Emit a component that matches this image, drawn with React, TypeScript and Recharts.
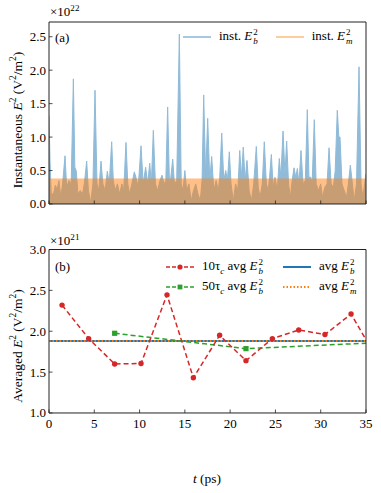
import React from "react";
import { ComposedChart, Area, Line, XAxis, YAxis, Legend } from "recharts";

// panel (a): instantaneous E_b^2 (units of 1e22 V^2/m^2), sampled at peaks and troughs
const instTime = [
  0.0, 0.12, 0.25, 0.5, 0.7, 0.9, 1.1, 1.3, 1.5, 1.77, 1.95, 2.2, 2.45, 2.69, 2.85, 3.0, 3.2, 3.45,
  3.7, 3.9, 4.16, 4.35, 4.6, 4.85, 5.08, 5.3, 5.5, 5.74, 5.95, 6.2, 6.44, 6.65, 6.92, 7.1, 7.3, 7.55,
  7.8, 8.05, 8.25, 8.5, 8.7, 8.9, 9.15, 9.42, 9.6, 9.85, 10.16, 10.4, 10.67, 10.9, 11.12, 11.3, 11.52,
  11.75, 12.0, 12.25, 12.48, 12.7, 12.9, 13.1, 13.3, 13.45, 13.66, 13.85, 14.1, 14.39, 14.6, 14.8,
  15.0, 15.2, 15.45, 15.7, 15.95, 16.2, 16.45, 16.7, 16.9, 17.08, 17.3, 17.52, 17.75, 17.96, 18.2,
  18.45, 18.7, 18.85, 19.07, 19.3, 19.51, 19.7, 19.91, 20.1, 20.35, 20.6, 20.85, 21.06, 21.25, 21.45,
  21.65, 21.86, 22.1, 22.35, 22.6, 22.89, 23.1, 23.3, 23.55, 23.77, 24.0, 24.2, 24.35, 24.55, 24.75,
  24.95, 25.2, 25.43, 25.6, 25.84, 26.05, 26.24, 26.45, 26.65, 26.85, 27.05, 27.25, 27.42, 27.6,
  27.82, 28.05, 28.3, 28.52, 28.7, 28.9, 29.05, 29.29, 29.5, 29.75, 30.0, 30.2, 30.45, 30.7, 30.92,
  31.15, 31.4, 31.6, 31.83, 32.0, 32.13, 32.35, 32.6, 32.85, 33.05, 33.27, 33.5, 33.7, 33.95, 34.23,
  34.45, 34.65, 34.85, 35.0,
];
const instEb = [
  1.32, 0.6, 0.15, 0.15, 0.28, 0.22, 0.35, 0.1, 0.3, 0.72, 0.25, 0.35, 0.3, 1.87, 0.55, 0.5, 0.15, 0.2,
  0.15, 0.3, 0.64, 0.2, 0.02, 0.3, 1.7, 0.3, 0.2, 0.64, 0.3, 0.2, 0.49, 0.3, 0.93, 0.35, 0.2, 0.3,
  0.15, 0.3, 0.2, 0.92, 0.3, 0.15, 0.3, 0.48, 0.4, 0.25, 0.87, 0.3, 0.55, 0.3, 0.61, 0.3, 1.1,
  0.3, 0.2, 0.35, 0.43, 0.3, 0.35, 1.45, 0.3, 0.4, 0.67, 0.3, 0.35, 2.54, 0.3, 0.2,
  0.5, 0.2, 0.3, 0.05, 0.2, 0.3, 0.15, 0.05, 0.35, 1.63, 0.4, 1.28, 0.35, 0.71, 0.2,
  0.35, 0.2, 0.4, 1.06, 0.35, 0.5, 0.35, 0.78, 0.3, 0.05, 0.3, 0.2, 0.8, 0.4, 0.85,
  0.35, 0.65, 0.2, 0.05, 0.3, 0.86, 0.25, 0.1, 0.3, 0.93, 0.3, 0.2, 0.4, 0.74, 0.25,
  0.4, 0.2, 0.68, 0.4, 1.09, 0.45, 0.94, 0.3, 0.1, 0.35, 0.54, 0.4, 0.53, 0.3,
  0.8, 0.3, 0.35, 1.41, 0.4, 0.4, 0.3, 1.26, 0.3, 0.2, 0.3, 0.1, 0.25, 0.3, 0.84,
  0.3, 0.25, 0.5, 1.4, 1.0, 1.0, 0.3, 0.2, 0.1, 0.3, 0.58, 0.3, 0.05, 0.3, 2.05,
  0.3, 0.1, 0.3, 0.45,
];
const instEmLevel = 0.38;

// panel (b): averaged E^2 (units of 1e21 V^2/m^2)
const avg10Time = [1.44, 4.38, 7.25, 10.16, 13.03, 15.94, 18.84, 21.75, 24.66, 27.57, 30.47, 33.35, 36.25];
const avg10Eb = [2.32, 1.91, 1.6, 1.605, 2.445, 1.43, 1.95, 1.64, 1.91, 2.015, 1.96, 2.21, 1.66];
const avg50Time = [7.25, 21.75, 36.25];
const avg50Eb = [1.975, 1.787, 1.86];
const avgEb = 1.88;
const avgEm = 1.88;

const tTicks = [0, 5, 10, 15, 20, 25, 30, 35];
const topTicks = [0, 0.5, 1, 1.5, 2, 2.5];
const bottomTicks = [1, 1.5, 2, 2.5, 3];

const FONT = "'Liberation Serif', 'Times New Roman', serif";
const BLUE = "#1f77b4";
const LIGHT_BLUE = "#8fbbd9";
const ORANGE = "#ff7f0e";
const RED = "#d62728";
const GREEN = "#2ca02c";
const AXIS = "#222";

const instData = instTime.map((t, i) => ({ t, eb: instEb[i], em: instEmLevel }));
const avg10Data = avg10Time.map((t, i) => ({ t, v: avg10Eb[i] }));
const avg50Data = avg50Time.map((t, i) => ({ t, v: avg50Eb[i] }));
const avgEbData = [{ t: 0, v: avgEb }, { t: 35, v: avgEb }];
const avgEmData = [{ t: 0, v: avgEm }, { t: 35, v: avgEm }];

// inward tick + label on the left axis (tickSize/tickMargin are 0, so x is the axis line)
const YTick = (props: any) => {
  const { x, y, payload } = props;
  return (
    <g>
      <line x1={x} x2={x + 3.5} y1={y} y2={y} stroke={AXIS} strokeWidth={0.8} />
      <text x={x - 3} y={y} dy={4.5} textAnchor="end" fontSize={13} fontFamily={FONT} fill="#000">
        {payload.value.toFixed(1)}
      </text>
    </g>
  );
};

const XTick = (props: any) => {
  const { x, y, payload, showLabel } = props;
  return (
    <g>
      <line x1={x} x2={x} y1={y} y2={y - 3.5} stroke={AXIS} strokeWidth={0.8} />
      {showLabel && (
        <text x={x} y={y} dy={15} textAnchor="middle" fontSize={13} fontFamily={FONT} fill="#000">
          {payload.value}
        </text>
      )}
    </g>
  );
};

const E2 = ({ sub }: { sub: string }) => (
  <span>
    <i>E</i>
    <span
      style={{
        display: "inline-flex",
        flexDirection: "column",
        fontSize: 9,
        lineHeight: "9px",
        verticalAlign: "middle",
        marginLeft: 1,
      }}
    >
      <span>2</span>
      <i>{sub}</i>
    </span>
  </span>
);

const Sample = ({ color, dash, width, marker }: any) => (
  <svg width={28} height={10} style={{ verticalAlign: "middle", marginRight: 8 }}>
    <line x1={0} x2={28} y1={5} y2={5} stroke={color} strokeWidth={width} strokeDasharray={dash} />
    {marker === "circle" && <circle cx={14} cy={5} r={2.6} fill={color} />}
    {marker === "square" && <rect x={11.6} y={2.6} width={4.8} height={4.8} fill={color} />}
  </svg>
);

const legendText: React.CSSProperties = { fontFamily: FONT, fontSize: 13, color: "#000", whiteSpace: "nowrap" };

const TopLegend = () => (
  <div style={{ ...legendText, display: "flex", gap: 18 }}>
    <span>
      <Sample color={LIGHT_BLUE} width={1.6} />
      inst. <E2 sub="b" />
    </span>
    <span>
      <Sample color="#ffbf86" width={1.6} />
      inst. <E2 sub="m" />
    </span>
  </div>
);

const BottomLegend = () => (
  <div style={{ ...legendText, display: "grid", gridTemplateColumns: "auto auto", columnGap: 20, rowGap: 2 }}>
    <span>
      <Sample color={RED} width={1.5} dash="4 2" marker="circle" />
      10τ<sub style={{ fontSize: 9, fontStyle: "italic" }}>c</sub> avg <E2 sub="b" />
    </span>
    <span>
      <Sample color={BLUE} width={2} />
      avg <E2 sub="b" />
    </span>
    <span>
      <Sample color={GREEN} width={1.5} dash="4 2" marker="square" />
      50τ<sub style={{ fontSize: 9, fontStyle: "italic" }}>c</sub> avg <E2 sub="b" />
    </span>
    <span>
      <Sample color={ORANGE} width={2} dash="1.5 2" />
      avg <E2 sub="m" />
    </span>
  </div>
);

const SquareDot = (p: any) => {
  if (p.cx == null || p.cy == null) return <g key={`sq-${p.index}`} />;
  return <rect key={`sq-${p.index}`} x={p.cx - 2.6} y={p.cy - 2.6} width={5.2} height={5.2} fill={GREEN} />;
};

const rotLabel = (top: number): React.CSSProperties => ({
  position: "absolute",
  left: 17,
  top,
  transform: "translate(-50%, -50%) rotate(-90deg)",
  whiteSpace: "nowrap",
  fontFamily: FONT,
  fontSize: 13.5,
});

const sup: React.CSSProperties = { fontSize: "0.7em" };

const App = () => {
  return (
    <div style={{ position: "absolute", left: 0, top: 0, width: 381, height: 493, background: "#fff" }}>
      {/* panel (a) */}
      <div style={{ position: "absolute", left: 0, top: 0 }}>
        <ComposedChart width={381} height={232} data={instData} margin={{ top: 21, right: 14, bottom: 9, left: 48 }}>
          <XAxis
            dataKey="t"
            type="number"
            domain={[0, 35]}
            ticks={tTicks}
            allowDataOverflow
            height={1}
            tickSize={0}
            tickMargin={0}
            tickLine={false}
            stroke={AXIS}
            tick={<XTick showLabel={false} />}
          />
          <XAxis xAxisId="top" orientation="top" type="number" domain={[0, 35]} height={1} tick={false} tickLine={false} stroke={AXIS} />
          <YAxis
            type="number"
            domain={[0, 2.72]}
            ticks={topTicks}
            allowDataOverflow
            width={1}
            tickSize={0}
            tickMargin={0}
            tickLine={false}
            stroke={AXIS}
            tick={<YTick />}
          />
          <YAxis yAxisId="right" orientation="right" width={1} tick={false} tickLine={false} stroke={AXIS} />
          <Area
            dataKey="eb"
            type="linear"
            stroke={LIGHT_BLUE}
            strokeWidth={1}
            fill={BLUE}
            fillOpacity={0.5}
            isAnimationActive={false}
            dot={false}
            activeDot={false}
          />
          <Area
            dataKey="em"
            type="linear"
            stroke="none"
            fill={ORANGE}
            fillOpacity={0.5}
            isAnimationActive={false}
            dot={false}
            activeDot={false}
          />
          <Legend content={<TopLegend />} wrapperStyle={{ position: "absolute", left: 183, top: 28, width: "auto" }} />
        </ComposedChart>
      </div>

      {/* panel (b) */}
      <div style={{ position: "absolute", left: 0, top: 240 }}>
        <ComposedChart width={381} height={253} margin={{ top: 8.5, right: 14, bottom: 41, left: 48 }}>
          <XAxis
            dataKey="t"
            type="number"
            domain={[0, 35]}
            ticks={tTicks}
            allowDataOverflow
            height={1}
            tickSize={0}
            tickMargin={0}
            tickLine={false}
            stroke={AXIS}
            tick={<XTick showLabel />}
          />
          <XAxis xAxisId="top" orientation="top" type="number" domain={[0, 35]} height={1} tick={false} tickLine={false} stroke={AXIS} />
          <YAxis
            type="number"
            domain={[1, 3]}
            ticks={bottomTicks}
            allowDataOverflow
            width={1}
            tickSize={0}
            tickMargin={0}
            tickLine={false}
            stroke={AXIS}
            tick={<YTick />}
          />
          <YAxis yAxisId="right" orientation="right" width={1} tick={false} tickLine={false} stroke={AXIS} />
          <Line data={avgEbData} dataKey="v" type="linear" stroke={BLUE} strokeWidth={2} dot={false} activeDot={false} isAnimationActive={false} />
          <Line
            data={avgEmData}
            dataKey="v"
            type="linear"
            stroke={ORANGE}
            strokeWidth={2}
            strokeDasharray="1.5 2"
            dot={false}
            activeDot={false}
            isAnimationActive={false}
          />
          <Line
            data={avg50Data}
            dataKey="v"
            type="linear"
            stroke={GREEN}
            strokeWidth={1.5}
            strokeDasharray="5 3"
            dot={<SquareDot />}
            activeDot={false}
            isAnimationActive={false}
          />
          <Line
            data={avg10Data}
            dataKey="v"
            type="linear"
            stroke={RED}
            strokeWidth={1.5}
            strokeDasharray="5 3"
            dot={{ r: 2.7, fill: RED, stroke: RED, strokeWidth: 0, strokeDasharray: "" }}
            activeDot={false}
            isAnimationActive={false}
          />
          <Legend content={<BottomLegend />} wrapperStyle={{ position: "absolute", left: 166, top: 18, width: "auto" }} />
        </ComposedChart>
      </div>

      {/* annotations */}
      <div style={{ position: "absolute", left: 50, top: 3, fontFamily: FONT, fontSize: 13 }}>
        ×10<sup style={sup}>22</sup>
      </div>
      <div style={{ position: "absolute", left: 50, top: 232, fontFamily: FONT, fontSize: 13 }}>
        ×10<sup style={sup}>21</sup>
      </div>
      <div style={{ position: "absolute", left: 55, top: 30, fontFamily: FONT, fontSize: 13 }}>(a)</div>
      <div style={{ position: "absolute", left: 55, top: 259, fontFamily: FONT, fontSize: 13 }}>(b)</div>
      <div style={rotLabel(120)}>
        Instantaneous <i>E</i>
        <sup style={sup}>2</sup> (V<sup style={sup}>2</sup>/m<sup style={sup}>2</sup>)
      </div>
      <div style={rotLabel(346)}>
        Averaged <i>E</i>
        <sup style={sup}>2</sup> (V<sup style={sup}>2</sup>/m<sup style={sup}>2</sup>)
      </div>
      <div
        style={{
          position: "absolute",
          left: 207,
          top: 471,
          transform: "translateX(-50%)",
          fontFamily: FONT,
          fontSize: 13.5,
          whiteSpace: "nowrap",
        }}
      >
        <i>t</i> (ps)
      </div>
    </div>
  );
};

export default App;
